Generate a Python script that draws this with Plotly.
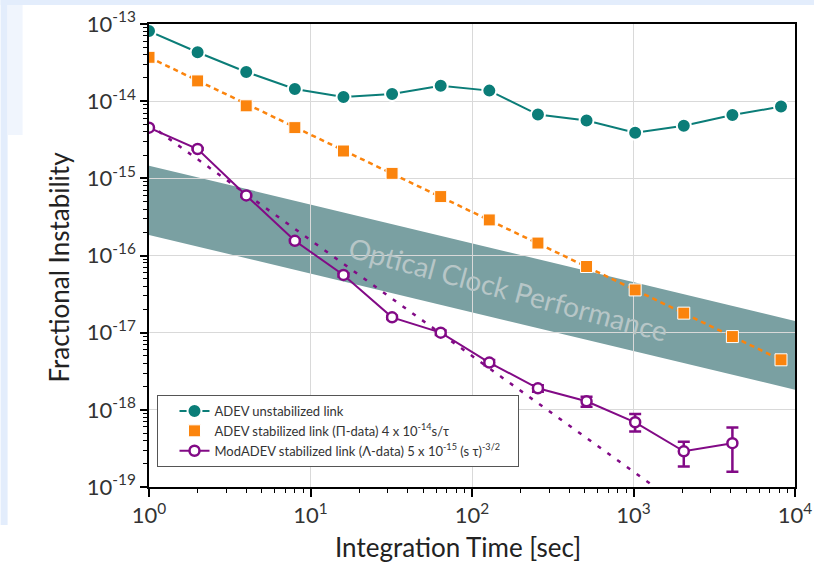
import math
import plotly.graph_objects as go

# ---------------- data ----------------
tau = [1, 2, 4, 8, 16, 32, 64, 128, 256, 512, 1024, 2048, 4096, 8192]
adev_unstab = [8.1e-14, 4.3e-14, 2.39e-14, 1.44e-14, 1.13e-14, 1.24e-14, 1.58e-14,
               1.37e-14, 6.7e-15, 5.6e-15, 3.9e-15, 4.8e-15, 6.6e-15, 8.5e-15]
adev_stab = [3.7e-14, 1.83e-14, 8.7e-15, 4.54e-15, 2.26e-15, 1.16e-15, 5.8e-16,
             2.89e-16, 1.45e-16, 7.2e-17, 3.58e-17, 1.79e-17, 8.9e-18, 4.45e-18]

tau_mod = [1, 2, 4, 8, 16, 32, 64, 128, 256, 512, 1024, 2048, 4096]
modadev = [4.54e-15, 2.4e-15, 6.0e-16, 1.55e-16, 5.6e-17, 1.58e-17, 1.0e-17,
           4.1e-18, 1.9e-18, 1.29e-18, 6.9e-19, 2.9e-19, 3.7e-19]
modadev_hi = [4.63e-15, 2.45e-15, 6.18e-16, 1.61e-16, 5.88e-17, 1.66e-17, 1.07e-17,
              4.43e-18, 2.09e-18, 1.48e-18, 8.8e-19, 3.85e-19, 5.9e-19]
modadev_lo = [4.45e-15, 2.35e-15, 5.82e-16, 1.49e-16, 5.32e-17, 1.5e-17, 9.3e-18,
              3.77e-18, 1.71e-18, 1.1e-18, 5.25e-19, 1.85e-19, 1.58e-19]

# fit lines (end points)
fit_pi_tau = [1, 8192]
fit_pi_val = [3.7e-14, 4.45e-18]
fit_lam_tau = [1, 1357]
fit_lam_val = [5.0e-15, 1.0e-19]

# optical clock performance band (end points)
band_tau = [1, 10000]
band_upper = [1.46e-15, 1.42e-17]
band_lower = [1.85e-16, 1.82e-18]
band_label = "Optical Clock Performance"
band_label_tau = 168
band_label_val = 3.7e-17

x_tickvals = [1, 10, 100, 1000, 10000]
x_ticktext = ["10<sup>0</sup>", "10<sup>1</sup>", "10<sup>2</sup>", "10<sup>3</sup>", "10<sup>4</sup>"]
y_exps = [-19, -18, -17, -16, -15, -14, -13]
y_tickvals = [10.0 ** e for e in y_exps]
y_ticktext = ["10<sup>%d</sup>" % e for e in y_exps]

TEAL = "#0b7d78"
ORANGE = "#fb840d"
PURPLE = "#820a86"
BAND = "#7aa0a2"
FONT = "Lato"

# ---------------- figure ----------------
fig = go.Figure()

# fit lines
fig.add_trace(go.Scatter(x=fit_lam_tau, y=fit_lam_val, mode="lines", showlegend=False,
                         line=dict(color=PURPLE, width=2.5, dash="4px,8px"), hoverinfo="skip"))
fig.add_trace(go.Scatter(x=fit_pi_tau, y=fit_pi_val, mode="lines", showlegend=False,
                         line=dict(color=ORANGE, width=2.5, dash="5px,4px"), hoverinfo="skip"))

# data
fig.add_trace(go.Scatter(x=tau, y=adev_unstab, mode="lines+markers",
                         name="ADEV unstabilized link",
                         line=dict(color=TEAL, width=2),
                         marker=dict(symbol="circle", size=14, color=TEAL,
                                     line=dict(color="white", width=2))))
fig.add_trace(go.Scatter(x=tau, y=adev_stab, mode="markers",
                         name="ADEV stabilized link (\u03a0-data) 4 x 10<sup>-14</sup>s/\u03c4",
                         marker=dict(symbol="square", size=12, color=ORANGE,
                                     line=dict(color="white", width=1))))
err_plus = [h - v for h, v in zip(modadev_hi, modadev)]
err_minus = [v - l for v, l in zip(modadev, modadev_lo)]
fig.add_trace(go.Scatter(x=tau_mod, y=modadev, mode="lines+markers",
                         name="ModADEV stabilized link (\u039b-data) 5 x 10<sup>-15</sup> (s \u03c4)<sup>-3/2</sup>&nbsp;&nbsp;&nbsp;&nbsp;",
                         line=dict(color=PURPLE, width=2),
                         marker=dict(symbol="circle", size=10, color="white",
                                     line=dict(color=PURPLE, width=2.5)),
                         error_y=dict(type="data", array=err_plus, arrayminus=err_minus,
                                      symmetric=False, color=PURPLE, thickness=2.5, width=6)))

# band as a shape below gridlines
path = "M {0},{1} L {2},{3} L {4},{5} L {6},{7} Z".format(
    band_tau[0], band_upper[0], band_tau[1], band_upper[1],
    band_tau[1], band_lower[1], band_tau[0], band_lower[0])
shapes = [dict(type="path", path=path, xref="x", yref="y", fillcolor=BAND,
               line=dict(width=0), layer="below")]

# page decoration (light blue strips)
L, R, T, B = 148.5, 19, 24, 81
W, H = 814 - L - R, 568 - T - B
def px(x):
    return (x - L) / W
def py(y):
    return (568 - B - y) / H
shapes += [
    dict(type="rect", xref="paper", yref="paper", x0=px(0), x1=px(814), y0=py(5), y1=py(0),
         fillcolor="#e3edfc", line=dict(width=0), layer="below"),
    dict(type="rect", xref="paper", yref="paper", x0=px(0), x1=px(7), y0=py(525), y1=py(0),
         fillcolor="#e3edfc", line=dict(width=0), layer="below"),
    dict(type="rect", xref="paper", yref="paper", x0=px(7), x1=px(22), y0=py(135), y1=py(5),
         fillcolor="#f0f5fd", line=dict(width=0), layer="below"),
]

annotations = [
    dict(x=math.log10(band_label_tau), y=math.log10(band_label_val), xref="x", yref="y",
         text=band_label, showarrow=False, textangle=15,
         xanchor="center", yanchor="middle",
         font=dict(family=FONT, size=28, color="#b7c6c7")),
    dict(x=px(58), y=py(267), xref="paper", yref="paper", text="Fractional Instability",
         showarrow=False, textangle=-90, xanchor="center", yanchor="middle",
         font=dict(family=FONT, size=26, color="#222")),
    dict(x=px(458), y=py(547), xref="paper", yref="paper", text="Integration Time [sec]",
         showarrow=False, xanchor="center", yanchor="middle",
         font=dict(family=FONT, size=26, color="#222")),
]

x_minor = [m * 10 ** d for d in range(0, 4) for m in range(2, 10)]
y_minor = [m * 10.0 ** d for d in range(-19, -13) for m in range(2, 10)]

fig.update_layout(
    width=814, height=568,
    margin=dict(l=L, r=R, t=T, b=B, pad=0, autoexpand=False),
    paper_bgcolor="white", plot_bgcolor="rgba(0,0,0,0)",
    font=dict(family=FONT, color="#333"),
    shapes=shapes, annotations=annotations,
    legend=dict(x=px(157), y=py(395), xanchor="left", yanchor="top",
                bgcolor="white", bordercolor="#555", borderwidth=1,
                font=dict(family=FONT, size=13, color="#333"),
                indentation=16, tracegroupgap=0),
    showlegend=True,
)
fig.update_xaxes(type="log", range=[0, 4], tickmode="array", tickvals=x_tickvals,
                 ticktext=x_ticktext, ticks="outside", ticklen=8, tickwidth=1.5,
                 tickcolor="black", showline=True, linecolor="black", linewidth=1.5,
                 mirror=True, showgrid=True, gridcolor="#d9d9d9", gridwidth=1,
                 zeroline=False, automargin=False,
                 tickfont=dict(family=FONT, size=22, color="#333"),
                 minor=dict(tickvals=x_minor, ticks="outside", ticklen=4,
                            tickcolor="black", tickwidth=1.2, showgrid=False))
fig.update_yaxes(type="log", range=[-19, -13], tickmode="array", tickvals=y_tickvals,
                 ticktext=y_ticktext, ticks="outside", ticklen=7, tickwidth=1.5,
                 tickcolor="black", showline=True, linecolor="black", linewidth=1.5,
                 mirror=True, showgrid=True, gridcolor="#d9d9d9", gridwidth=1,
                 zeroline=False, automargin=False,
                 tickfont=dict(family=FONT, size=22, color="#333"),
                 minor=dict(tickvals=y_minor, ticks="outside", ticklen=4,
                            tickcolor="black", tickwidth=1.2, showgrid=False))

fig.write_html("out.html")
